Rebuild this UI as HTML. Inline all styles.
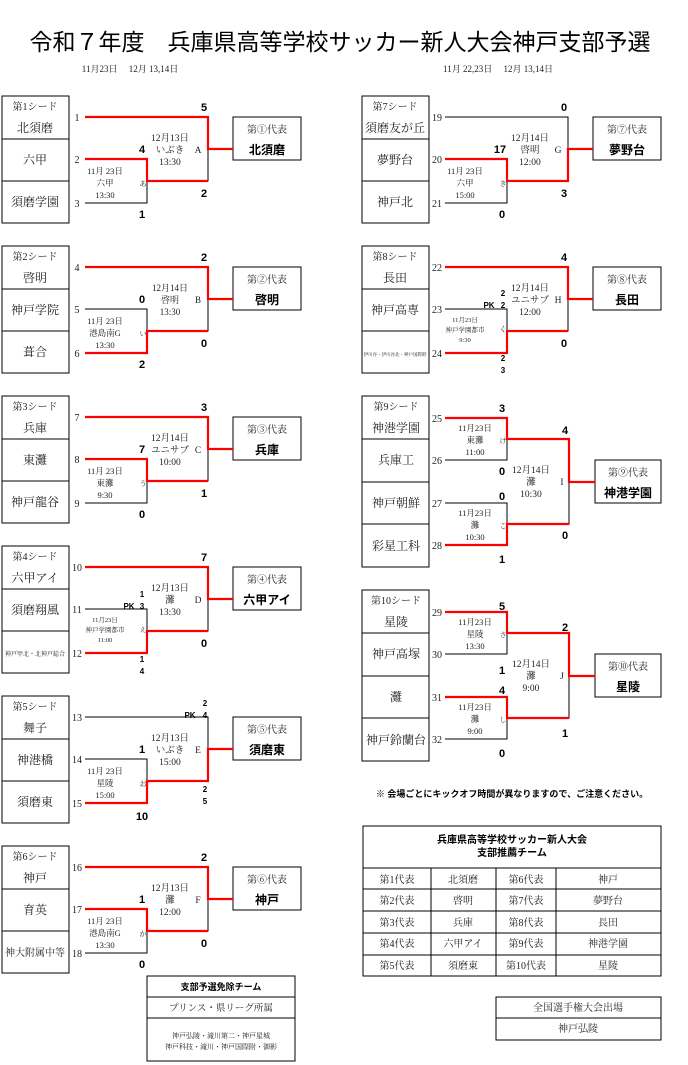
<!DOCTYPE html>
<html><head><meta charset="utf-8"><style>
html,body{margin:0;padding:0;background:#fff;}
svg{display:block;}
.s{font-family:"Liberation Serif","Noto Serif CJK JP",serif;fill:#222;}
.b{font-family:"Liberation Sans","Noto Sans CJK JP",sans-serif;font-weight:bold;fill:#000;}
.k{stroke:#000;stroke-width:1;fill:none;}
.r{stroke:#f00;stroke-width:2.2;fill:none;}
</style></head><body>
<svg width="688" height="1065" viewBox="0 0 688 1065" xmlns="http://www.w3.org/2000/svg" text-anchor="middle">
<defs>
<g id="L3">
<rect x="2" y="0" width="67" height="127" class="k"/>
<path class="k" d="M2 43H69M2 85H69M85 21H208V85H147M85 63H147V107H85M208 53H233"/>
<rect x="233" y="21" width="68" height="43" class="k"/>
</g>
<g id="R4">
<rect x="362" y="0" width="67" height="171" class="k"/>
<path class="k" d="M362 43H429M362 86H429M362 128H429M445 22H507V64H445M445 107H507V149H445M507 43H569V128H507M569 86H595"/>
<rect x="595" y="64" width="66" height="43" class="k"/>
</g>
</defs>

<text x="340" y="50" class="b" font-size="23" style="font-weight:normal">令和７年度　兵庫県高等学校サッカー新人大会神戸支部予選</text>
<text x="130" y="72" class="s" font-size="9">11月23日　 12月 13,14日</text>
<text x="498" y="72" class="s" font-size="9">11月 22,23日　 12月 13,14日</text>

<!-- Block 1 -->
<g transform="translate(0,96)">
<use href="#L3"/>
<path class="r" d="M85 21H208V53H233M85 63H147V85H208"/>
<g class="s" font-size="10"><text x="35" y="14">第1シード</text><text x="77" y="25">1</text><text x="77" y="67">2</text><text x="77" y="111">3</text><text x="267" y="37">第①代表</text></g>
<g class="s" font-size="12"><text x="35" y="36">北須磨</text><text x="35" y="68">六甲</text><text x="35" y="110">須磨学園</text></g>
<text x="267" y="58" class="b" font-size="12">北須磨</text>
<g class="s" font-size="9.5"><text x="170" y="45">12月13日</text><text x="170" y="57">いぶき</text><text x="170" y="69">13:30</text><text x="198" y="57">A</text></g>
<g class="s" font-size="8.5"><text x="105" y="78">11月 23日</text><text x="105" y="90">六甲</text><text x="105" y="102">13:30</text><text x="143" y="90" font-size="7">あ</text></g>
<g class="b" font-size="11"><text x="204" y="15">5</text><text x="142" y="57">4</text><text x="204" y="101">2</text><text x="142" y="122">1</text></g>
</g>

<!-- Block 2 -->
<g transform="translate(0,246)">
<use href="#L3"/>
<path class="r" d="M85 21H208V53H233M85 107H147V85H208"/>
<g class="s" font-size="10"><text x="35" y="14">第2シード</text><text x="77" y="25">4</text><text x="77" y="67">5</text><text x="77" y="111">6</text><text x="267" y="37">第②代表</text></g>
<g class="s" font-size="12"><text x="35" y="36">啓明</text><text x="35" y="68">神戸学院</text><text x="35" y="110">葺合</text></g>
<text x="267" y="58" class="b" font-size="12">啓明</text>
<g class="s" font-size="9"><text x="170" y="45">12月14日</text><text x="170" y="57">啓明</text><text x="170" y="69">13:30</text><text x="198" y="57">B</text></g>
<g class="s" font-size="8.5"><text x="105" y="78">11月 23日</text><text x="105" y="90">港島南G</text><text x="105" y="102">13:30</text><text x="143" y="90" font-size="7">い</text></g>
<g class="b" font-size="11"><text x="204" y="15">2</text><text x="142" y="57">0</text><text x="204" y="101">0</text><text x="142" y="122">2</text></g>
</g>

<!-- Block 3 -->
<g transform="translate(0,396)">
<use href="#L3"/>
<path class="r" d="M85 21H208V53H233M85 63H147V85H208"/>
<g class="s" font-size="10"><text x="35" y="14">第3シード</text><text x="77" y="25">7</text><text x="77" y="67">8</text><text x="77" y="111">9</text><text x="267" y="37">第③代表</text></g>
<g class="s" font-size="12"><text x="35" y="36">兵庫</text><text x="35" y="68">東灘</text><text x="35" y="110">神戸龍谷</text></g>
<text x="267" y="58" class="b" font-size="12">兵庫</text>
<g class="s" font-size="9.5"><text x="170" y="45">12月14日</text><text x="170" y="57">ユニサブ</text><text x="170" y="69">10:00</text><text x="198" y="57">C</text></g>
<g class="s" font-size="8.5"><text x="105" y="78">11月 23日</text><text x="105" y="90">東灘</text><text x="105" y="102">9:30</text><text x="143" y="90" font-size="7">う</text></g>
<g class="b" font-size="11"><text x="204" y="15">3</text><text x="142" y="57">7</text><text x="204" y="101">1</text><text x="142" y="122">0</text></g>
</g>

<!-- Block 4 -->
<g transform="translate(0,546)">
<use href="#L3"/>
<path class="r" d="M85 21H208V53H233M85 107H147V85H208"/>
<g class="s" font-size="10"><text x="35" y="14">第4シード</text><text x="77" y="25">10</text><text x="77" y="67">11</text><text x="77" y="111">12</text><text x="267" y="37">第④代表</text></g>
<g class="s" font-size="12"><text x="35" y="36">六甲アイ</text><text x="35" y="68">須磨翔風</text></g>
<text x="35" y="110" class="s" font-size="6">神戸甲北・北神戸総合</text>
<text x="267" y="58" class="b" font-size="12">六甲アイ</text>
<g class="s" font-size="9.5"><text x="170" y="45">12月13日</text><text x="170" y="57">灘</text><text x="170" y="69">13:30</text><text x="198" y="57">D</text></g>
<g class="s" font-size="6.5"><text x="105" y="76">11月23日</text><text x="105" y="86">神戸学園都市</text><text x="105" y="96">11:00</text><text x="143" y="86">え</text></g>
<g class="b" font-size="8"><text x="142" y="51">1</text><text x="142" y="63">3</text><text x="129" y="63">PK</text><text x="142" y="116">1</text><text x="142" y="128">4</text></g>
<g class="b" font-size="11"><text x="204" y="15">7</text><text x="204" y="101">0</text></g>
</g>

<!-- Block 5 -->
<g transform="translate(0,696)">
<use href="#L3"/>
<path class="r" d="M85 107H147V85H208V53H233"/>
<g class="s" font-size="10"><text x="35" y="14">第5シード</text><text x="77" y="25">13</text><text x="77" y="67">14</text><text x="77" y="111">15</text><text x="267" y="37">第⑤代表</text></g>
<g class="s" font-size="12"><text x="35" y="36">舞子</text><text x="35" y="68">神港橋</text><text x="35" y="110">須磨東</text></g>
<text x="267" y="58" class="b" font-size="12">須磨東</text>
<g class="s" font-size="9.5"><text x="170" y="45">12月13日</text><text x="170" y="57">いぶき</text><text x="170" y="69">15:00</text><text x="198" y="57">E</text></g>
<g class="s" font-size="8.5"><text x="105" y="78">11月 23日</text><text x="105" y="90">星陵</text><text x="105" y="102">15:00</text><text x="143" y="90" font-size="7">お</text></g>
<g class="b" font-size="8"><text x="205" y="10">2</text><text x="205" y="22">4</text><text x="190" y="22">PK</text><text x="205" y="96">2</text><text x="205" y="108">5</text></g>
<g class="b" font-size="11"><text x="142" y="57">1</text><text x="142" y="124">10</text></g>
</g>

<!-- Block 6 -->
<g transform="translate(0,846)">
<use href="#L3"/>
<path class="r" d="M85 21H208V53H233M85 63H147V85H208"/>
<g class="s" font-size="10"><text x="35" y="14">第6シード</text><text x="77" y="25">16</text><text x="77" y="67">17</text><text x="77" y="111">18</text><text x="267" y="37">第⑥代表</text></g>
<g class="s" font-size="12"><text x="35" y="36">神戸</text><text x="35" y="68">育英</text></g>
<text x="35" y="110" class="s" font-size="10">神大附属中等</text>
<text x="267" y="58" class="b" font-size="12">神戸</text>
<g class="s" font-size="9.5"><text x="170" y="45">12月13日</text><text x="170" y="57">灘</text><text x="170" y="69">12:00</text><text x="198" y="57">F</text></g>
<g class="s" font-size="8.5"><text x="105" y="78">11月 23日</text><text x="105" y="90">港島南G</text><text x="105" y="102">13:30</text><text x="143" y="90" font-size="7">か</text></g>
<g class="b" font-size="11"><text x="204" y="15">2</text><text x="142" y="57">1</text><text x="204" y="101">0</text><text x="142" y="122">0</text></g>
</g>

<!-- Block 7 -->
<g transform="translate(360,96)">
<use href="#L3"/>
<path class="r" d="M85 63H147V85H208V53H233"/>
<g class="s" font-size="10"><text x="35" y="14">第7シード</text><text x="77" y="25">19</text><text x="77" y="67">20</text><text x="77" y="111">21</text><text x="267" y="37">第⑦代表</text></g>
<g class="s" font-size="12"><text x="35" y="36">須磨友が丘</text><text x="35" y="68">夢野台</text><text x="35" y="110">神戸北</text></g>
<text x="267" y="58" class="b" font-size="12">夢野台</text>
<g class="s" font-size="9.5"><text x="170" y="45">12月14日</text><text x="170" y="57">啓明</text><text x="170" y="69">12:00</text><text x="198" y="57">G</text></g>
<g class="s" font-size="8.5"><text x="105" y="78">11月 23日</text><text x="105" y="90">六甲</text><text x="105" y="102">15:00</text><text x="143" y="90" font-size="7">き</text></g>
<g class="b" font-size="11"><text x="204" y="15">0</text><text x="140" y="57">17</text><text x="204" y="101">3</text><text x="142" y="122">0</text></g>
</g>

<!-- Block 8 -->
<g transform="translate(360,246)">
<use href="#L3"/>
<path class="r" d="M85 21H208V53H233M85 107H147V85H208"/>
<g class="s" font-size="10"><text x="35" y="14">第8シード</text><text x="77" y="25">22</text><text x="77" y="67">23</text><text x="77" y="111">24</text><text x="267" y="37">第⑧代表</text></g>
<g class="s" font-size="12"><text x="35" y="36">長田</text><text x="35" y="68">神戸高専</text></g>
<text x="35" y="110" class="s" font-size="4.5">伊川谷・伊川谷北・神戸国際附</text>
<text x="267" y="58" class="b" font-size="12">長田</text>
<g class="s" font-size="9.5"><text x="170" y="45">12月14日</text><text x="170" y="57">ユニサブ</text><text x="170" y="69">12:00</text><text x="198" y="57">H</text></g>
<g class="s" font-size="6.5"><text x="105" y="76">11月23日</text><text x="105" y="86">神戸学園都市</text><text x="105" y="96">9:30</text><text x="143" y="86" font-size="8">く</text></g>
<g class="b" font-size="8"><text x="143" y="50">2</text><text x="143" y="62">2</text><text x="129" y="62">PK</text><text x="143" y="115">2</text><text x="143" y="127">3</text></g>
<g class="b" font-size="11"><text x="204" y="15">4</text><text x="204" y="101">0</text></g>
</g>

<!-- Block 9 -->
<g transform="translate(0,396)">
<use href="#R4"/>
<path class="r" d="M445 22H507V43H569V86H595M445 149H507V128H569"/>
<g class="s" font-size="10"><text x="396" y="14">第9シード</text><text x="437" y="26">25</text><text x="437" y="68">26</text><text x="437" y="111">27</text><text x="437" y="153">28</text><text x="628" y="80">第⑨代表</text></g>
<g class="s" font-size="12"><text x="396" y="36">神港学園</text><text x="396" y="68">兵庫工</text><text x="396" y="111">神戸朝鮮</text><text x="396" y="154">彩星工科</text></g>
<text x="628" y="101" class="b" font-size="12">神港学園</text>
<g class="s" font-size="8.5"><text x="475" y="35">11月23日</text><text x="475" y="47">東灘</text><text x="475" y="59">11:00</text><text x="503" y="47" font-size="7">け</text>
<text x="475" y="120">11月23日</text><text x="475" y="132">灘</text><text x="475" y="144">10:30</text><text x="503" y="132" font-size="7">こ</text></g>
<g class="s" font-size="9.5"><text x="531" y="77">12月14日</text><text x="531" y="89">灘</text><text x="531" y="101">10:30</text><text x="562" y="89">I</text></g>
<g class="b" font-size="11"><text x="502" y="16">3</text><text x="502" y="79">0</text><text x="502" y="104">0</text><text x="502" y="167">1</text><text x="565" y="38">4</text><text x="565" y="143">0</text></g>
</g>

<!-- Block 10 -->
<g transform="translate(0,590)">
<use href="#R4"/>
<path class="r" d="M445 22H507V43H569V86H595M445 107H507V128H569"/>
<g class="s" font-size="10"><text x="396" y="14">第10シード</text><text x="437" y="26">29</text><text x="437" y="68">30</text><text x="437" y="111">31</text><text x="437" y="153">32</text><text x="628" y="80">第⑩代表</text></g>
<g class="s" font-size="12"><text x="396" y="36">星陵</text><text x="396" y="68">神戸高塚</text><text x="396" y="111">灘</text><text x="396" y="154">神戸鈴蘭台</text></g>
<text x="628" y="101" class="b" font-size="12">星陵</text>
<g class="s" font-size="8.5"><text x="475" y="35">11月23日</text><text x="475" y="47">星陵</text><text x="475" y="59">13:30</text><text x="503" y="47" font-size="7">さ</text>
<text x="475" y="120">11月23日</text><text x="475" y="132">灘</text><text x="475" y="144">9:00</text><text x="503" y="132" font-size="7">し</text></g>
<g class="s" font-size="9.5"><text x="531" y="77">12月14日</text><text x="531" y="89">灘</text><text x="531" y="101">9:00</text><text x="562" y="89">J</text></g>
<g class="b" font-size="11"><text x="502" y="20">5</text><text x="502" y="84">1</text><text x="502" y="104">4</text><text x="502" y="167">0</text><text x="565" y="41">2</text><text x="565" y="147">1</text></g>
</g>

<!-- Note -->
<text x="512" y="797" class="b" font-size="9">※ 会場ごとにキックオフ時間が異なりますので、ご注意ください。</text>

<!-- Recommendation table -->
<rect x="363" y="826" width="298" height="150" class="k"/>
<path class="k" d="M363 868H661M363 889H661M363 911H661M363 933H661M363 955H661M431 868V976M496 868V976M556 868V976"/>
<text x="512" y="843" class="b" font-size="10">兵庫県高等学校サッカー新人大会</text>
<text x="512" y="856" class="b" font-size="10">支部推薦チーム</text>
<g class="s" font-size="10">
<text x="397" y="883">第1代表</text><text x="463" y="883">北須磨</text><text x="526" y="883">第6代表</text><text x="608" y="883">神戸</text>
<text x="397" y="904">第2代表</text><text x="463" y="904">啓明</text><text x="526" y="904">第7代表</text><text x="608" y="904">夢野台</text>
<text x="397" y="926">第3代表</text><text x="463" y="926">兵庫</text><text x="526" y="926">第8代表</text><text x="608" y="926">長田</text>
<text x="397" y="947">第4代表</text><text x="463" y="947">六甲アイ</text><text x="526" y="947">第9代表</text><text x="608" y="947">神港学園</text>
<text x="397" y="969">第5代表</text><text x="463" y="969">須磨東</text><text x="526" y="969">第10代表</text><text x="608" y="969">星陵</text>
</g>

<!-- National -->
<rect x="496" y="997" width="165" height="43" class="k"/>
<path class="k" d="M496 1018H661"/>
<text x="578" y="1011" class="s" font-size="10">全国選手権大会出場</text>
<text x="578" y="1032" class="s" font-size="10">神戸弘陵</text>

<!-- Exempt -->
<rect x="147" y="976" width="148" height="85" class="k"/>
<path class="k" d="M147 997H295M147 1018H295"/>
<text x="221" y="990" class="b" font-size="9">支部予選免除チーム</text>
<text x="221" y="1011" class="s" font-size="9.5">プリンス・県リーグ所属</text>
<text x="221" y="1038" class="s" font-size="7">神戸弘陵・滝川第二・神戸星城</text>
<text x="221" y="1049" class="s" font-size="7">神戸科技・滝川・神戸国際附・御影</text>
</svg>
</body></html>
